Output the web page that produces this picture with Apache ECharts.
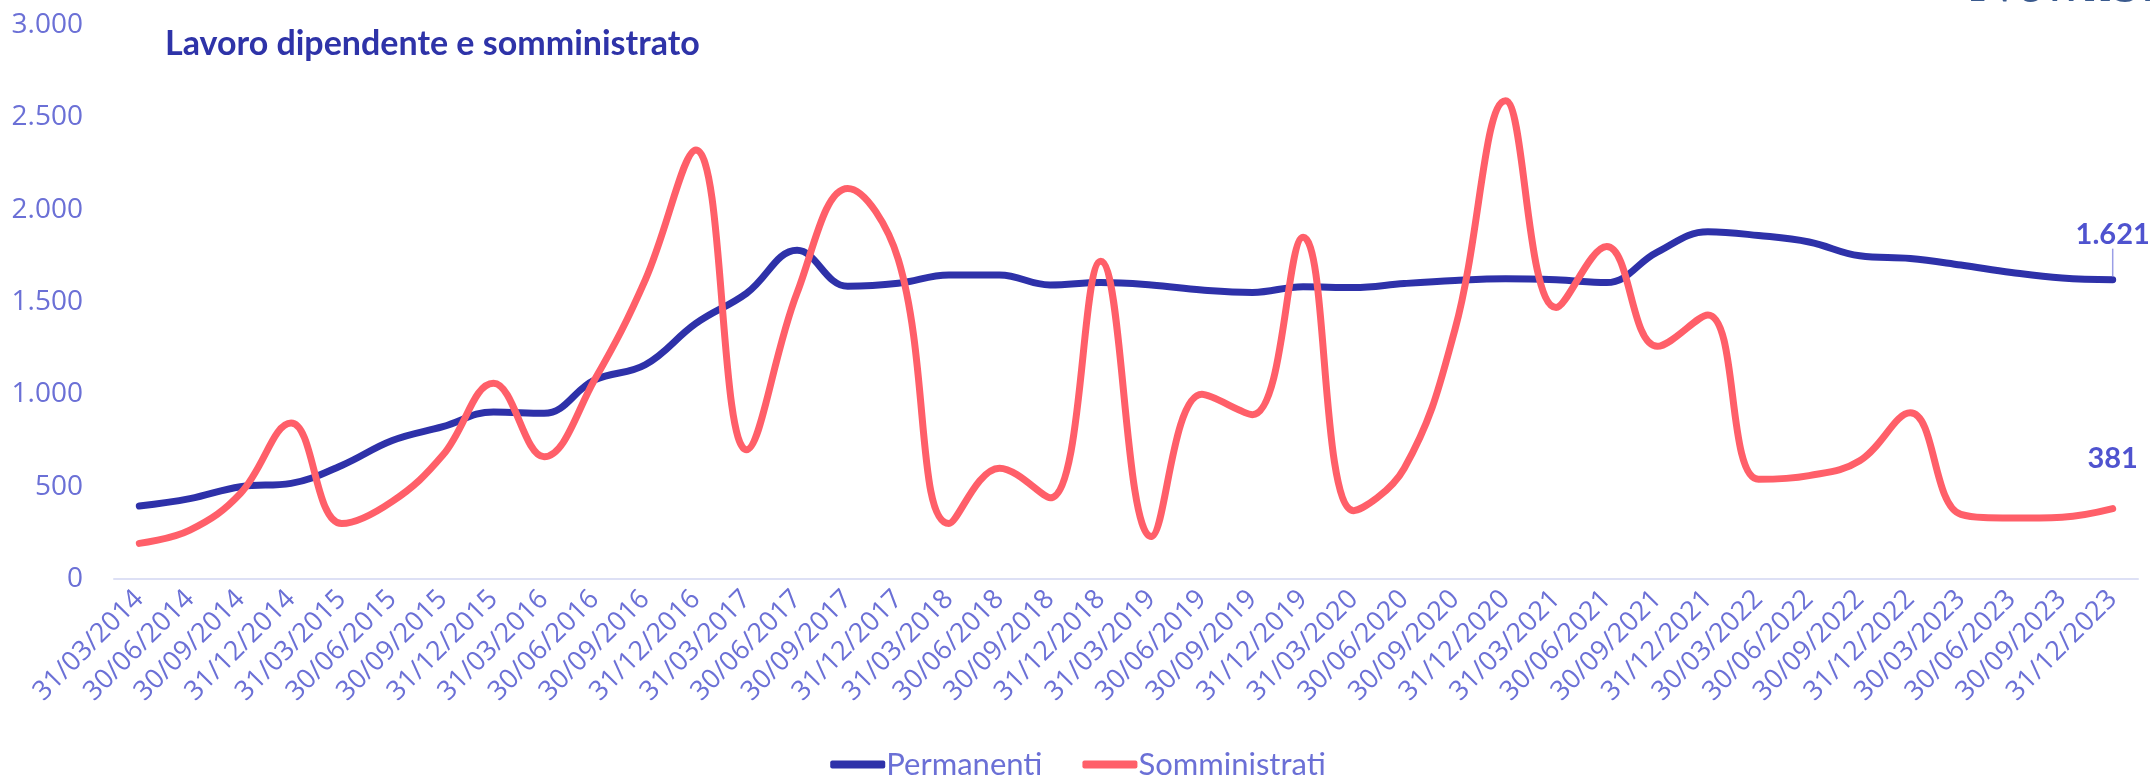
<!DOCTYPE html>
<html>
<head>
<meta charset="utf-8">
<script src="https://cdn.jsdelivr.net/npm/echarts@6/dist/echarts.min.js"></script>
<style>
  html, body { margin: 0; padding: 0; background: #fff; }
  #main { width: 2156px; height: 781px; }
</style>
</head>
<body>
<div id="main"></div>
<script>
var categories = [
    '31/03/2014', '30/06/2014', '30/09/2014', '31/12/2014',
    '31/03/2015', '30/06/2015', '30/09/2015', '31/12/2015',
    '31/03/2016', '30/06/2016', '30/09/2016', '31/12/2016',
    '31/03/2017', '30/06/2017', '30/09/2017', '31/12/2017',
    '31/03/2018', '30/06/2018', '30/09/2018', '31/12/2018',
    '31/03/2019', '30/06/2019', '30/09/2019', '31/12/2019',
    '31/03/2020', '30/06/2020', '30/09/2020', '31/12/2020',
    '31/03/2021', '30/06/2021', '30/09/2021', '31/12/2021',
    '30/03/2022', '30/06/2022', '30/09/2022', '31/12/2022',
    '30/03/2023', '30/06/2023', '30/09/2023', '31/12/2023'
];
var permanenti = [
    395, 435, 500, 518, 615, 750, 825, 905, 897, 1078,
    1160, 1384, 1547, 1780, 1585, 1601, 1646, 1646, 1592, 1605,
    1592, 1565, 1552, 1583, 1578, 1600, 1617, 1626, 1620, 1605,
    1770, 1880, 1860, 1825, 1750, 1735, 1700, 1660, 1630, 1621
];
var somministrati = [
    193, 265, 464, 845, 300, 420, 671, 1060, 662, 1080,
    1620, 2323, 700, 1550, 2115, 1730, 300, 600, 440, 1720,
    230, 1000, 890, 1850, 370, 600, 1350, 2590, 1470, 1800,
    1260, 1430, 540, 560, 640, 900, 350, 330, 335, 381
];
var yTicks = [0, 500, 1000, 1500, 2000, 2500, 3000];

var textColor = '#6B70D6';
var blue = '#2E31A9';
var red = '#FF5F69';

function fmt(v) {
    return String(v).replace(/\B(?=(\d{3})+(?!\d))/g, '.');
}

// solo l'ultimo punto ha simbolo ed etichetta
function withEndLabel(arr, dist) {
    return arr.map(function (v, i) {
        if (i !== arr.length - 1) return { value: v, symbolSize: 0 };
        return {
            value: v,
            label: {
                show: true,
                position: 'top',
                distance: dist,
                formatter: function (p) { return fmt(p.value); },
                fontFamily: 'Lato',
                fontWeight: 'bold',
                fontSize: 29,
                color: '#4F53CF'
            }
        };
    });
}

var chartDom = document.getElementById('main');
var myChart = echarts.init(chartDom);
var option;

option = {
    animation: false,
    title: {
        text: 'Lavoro dipendente e somministrato',
        left: 160,
        top: 22,
        textStyle: {
            fontFamily: 'Lato',
            fontWeight: 'bold',
            fontSize: 34,
            color: '#2E33A8'
        }
    },
    graphic: [
        {
            type: 'text',
            x: 1972,
            y: 13,
            style: {
                text: 'Nomisma',
                font: 'italic 52px "DejaVu Serif"',
                fill: '#3A5A8E',
                verticalAlign: 'bottom'
            }
        }
    ],
    legend: {
        bottom: -4,
        left: 'center',
        icon: 'roundRect',
        itemWidth: 55,
        itemHeight: 8,
        itemGap: 40,
        textStyle: {
            fontFamily: 'Lato',
            fontSize: 31,
            color: textColor,
            padding: [0, 0, 0, -4]
        },
        data: ['Permanenti', 'Somministrati']
    },
    grid: {
        left: 114,
        right: 18,
        top: 25,
        bottom: 202
    },
    xAxis: {
        type: 'category',
        data: categories,
        boundaryGap: true,
        axisLine: { lineStyle: { color: '#DDE0F5', width: 2 } },
        axisTick: { show: false },
        axisLabel: {
            interval: 0,
            rotate: 45,
            margin: 16,
            fontFamily: 'Open Sans',
            fontSize: 27,
            color: textColor
        }
    },
    yAxis: {
        type: 'value',
        min: yTicks[0],
        max: yTicks[yTicks.length - 1],
        interval: 500,
        splitLine: { show: false },
        axisLine: { show: false },
        axisTick: { show: false },
        axisLabel: {
            margin: 31,
            fontFamily: 'Open Sans',
            fontSize: 28,
            color: textColor,
            formatter: fmt
        }
    },
    series: [
        {
            name: 'Permanenti',
            type: 'line',
            smooth: 0.4,
            symbol: 'circle',
            symbolSize: 6,
            showSymbol: true,
            color: blue,
            lineStyle: { width: 7, color: blue, cap: 'round' },
            data: withEndLabel(permanenti, 8),
            labelLayout: { dy: -20 },
            labelLine: { show: true, lineStyle: { color: '#9A9EE6', width: 1.5 } }
        },
        {
            name: 'Somministrati',
            type: 'line',
            smooth: 0.4,
            symbol: 'circle',
            symbolSize: 0,
            showSymbol: true,
            color: red,
            lineStyle: { width: 7, color: red, cap: 'round' },
            data: withEndLabel(somministrati, 36)
        }
    ]
};

option && myChart.setOption(option);
window.onresize = function () {
    myChart.resize();
};
</script>
</body>
</html>
